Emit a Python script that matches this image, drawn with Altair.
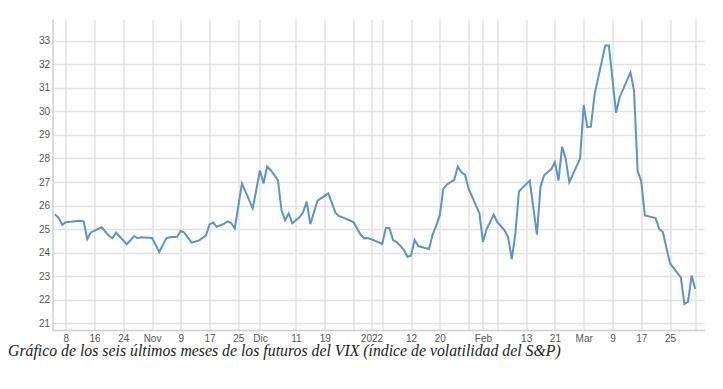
import altair as alt
import pandas as pd
from datetime import datetime, timezone

# ---- data ----
dates = [
    "2021-10-05", "2021-10-06", "2021-10-07", "2021-10-08", "2021-10-10", "2021-10-12",
    "2021-10-13", "2021-10-14", "2021-10-15", "2021-10-18", "2021-10-20", "2021-10-21",
    "2021-10-22", "2021-10-25", "2021-10-27", "2021-10-28", "2021-10-29", "2021-11-01",
    "2021-11-03", "2021-11-05", "2021-11-06", "2021-11-08", "2021-11-09", "2021-11-10",
    "2021-11-12", "2021-11-14", "2021-11-15", "2021-11-16", "2021-11-17", "2021-11-18",
    "2021-11-19", "2021-11-21", "2021-11-22", "2021-11-23", "2021-11-24", "2021-11-26",
    "2021-11-29", "2021-12-01", "2021-12-02", "2021-12-03", "2021-12-04", "2021-12-06",
    "2021-12-07", "2021-12-08", "2021-12-09", "2021-12-10", "2021-12-12", "2021-12-13",
    "2021-12-14", "2021-12-15", "2021-12-17", "2021-12-20", "2021-12-22", "2021-12-23",
    "2021-12-24", "2021-12-27", "2021-12-29", "2021-12-30", "2021-12-31", "2022-01-02",
    "2022-01-04", "2022-01-05", "2022-01-06", "2022-01-07", "2022-01-08", "2022-01-09",
    "2022-01-10", "2022-01-11", "2022-01-12", "2022-01-13", "2022-01-14", "2022-01-17",
    "2022-01-18", "2022-01-19", "2022-01-20", "2022-01-21", "2022-01-22", "2022-01-24",
    "2022-01-25", "2022-01-26", "2022-01-27", "2022-01-28", "2022-01-31", "2022-02-01",
    "2022-02-02", "2022-02-04", "2022-02-05", "2022-02-07", "2022-02-08", "2022-02-09",
    "2022-02-10", "2022-02-11", "2022-02-14", "2022-02-16", "2022-02-17", "2022-02-18",
    "2022-02-20", "2022-02-21", "2022-02-22", "2022-02-23", "2022-02-24", "2022-02-25",
    "2022-02-28", "2022-03-01", "2022-03-02", "2022-03-03", "2022-03-04", "2022-03-07",
    "2022-03-08", "2022-03-10", "2022-03-11", "2022-03-14", "2022-03-15", "2022-03-16",
    "2022-03-17", "2022-03-18", "2022-03-21", "2022-03-22", "2022-03-23", "2022-03-25",
    "2022-03-28", "2022-03-29", "2022-03-30", "2022-03-31", "2022-04-01",
]
values = [
    25.62, 25.50, 25.19, 25.29, 25.33, 25.36,
    25.33, 24.58, 24.86, 25.08, 24.72, 24.62,
    24.85, 24.36, 24.70, 24.62, 24.66, 24.63,
    24.03, 24.62, 24.66, 24.68, 24.93, 24.85,
    24.43, 24.52, 24.62, 24.74, 25.20, 25.28,
    25.10, 25.22, 25.33, 25.26, 25.03, 26.94,
    25.88, 27.49, 26.94, 27.66, 27.50, 27.08,
    25.80, 25.38, 25.67, 25.25, 25.50, 25.73,
    26.17, 25.21, 26.21, 26.52, 25.70, 25.55,
    25.50, 25.30, 24.76, 24.61, 24.62, 24.51,
    24.37, 25.05, 25.05, 24.54, 24.45, 24.30,
    24.12, 23.83, 23.87, 24.54, 24.28, 24.16,
    24.76, 25.15, 25.60, 26.72, 26.90, 27.09,
    27.66, 27.41, 27.31, 26.72, 25.68, 24.46,
    25.00, 25.61, 25.30, 24.95, 24.65, 23.73,
    24.80, 26.60, 27.06, 24.77, 26.80, 27.29,
    27.55, 27.84, 27.06, 28.50, 27.98, 26.99,
    28.00, 30.26, 29.33, 29.35, 30.70, 32.80,
    32.80, 29.94, 30.60, 31.66, 30.87, 27.46,
    27.03, 25.58, 25.47, 25.00, 24.88, 23.55,
    22.95, 21.82, 21.92, 23.03, 22.46,
]

tick_dates = [
    "2021-10-08", "2021-10-16", "2021-10-24", "2021-11-01", "2021-11-09", "2021-11-17",
    "2021-11-25", "2021-12-01", "2021-12-11", "2021-12-19", "2021-12-27", "2022-01-01",
    "2022-01-04", "2022-01-12", "2022-01-20", "2022-01-28", "2022-02-01", "2022-02-05",
    "2022-02-13", "2022-02-21", "2022-03-01", "2022-03-09", "2022-03-17", "2022-03-25",
    "2022-04-01",
]
tick_labels = [
    "8", "16", "24", "Nov", "9", "17",
    "25", "Dic", "11", "19", "", "2022",
    "", "12", "20", "", "Feb", "",
    "13", "21", "Mar", "9", "17", "25",
    "",
]
y_ticks = [21, 22, 23, 24, 25, 26, 27, 28, 29, 30, 31, 32, 33]
caption = "Gráfico de los seis últimos meses de los futuros del VIX (índice de volatilidad del S&P)"


def to_ms(s):
    return int(datetime.fromisoformat(s).replace(tzinfo=timezone.utc).timestamp() * 1000)


tick_ms = [to_ms(d) for d in tick_dates]
x_domain = [to_ms("2021-10-04T08:00:00"), to_ms("2022-04-03T14:00:00")]

label_expr = "''"
for ms, lab in reversed(list(zip(tick_ms, tick_labels))):
    label_expr = f"time(datum.value) == {ms} ? '{lab}' : ({label_expr})"

df = pd.DataFrame({"date": dates, "value": values})

line = alt.Chart(df).mark_line(color="#5b94c8", strokeWidth=2).encode(
    x=alt.X(
        "date:T",
        scale=alt.Scale(type="utc", domain=x_domain, nice=False),
        axis=alt.Axis(
            values=tick_ms,
            labelExpr=label_expr,
            title=None,
            ticks=False,
            labelPadding=3,
            labelOverlap=False,
            grid=True,
        ),
    ),
    y=alt.Y(
        "value:Q",
        scale=alt.Scale(domain=[20.72, 33.92], nice=False, zero=False),
        axis=alt.Axis(values=y_ticks, title=None, ticks=False, labelPadding=3, grid=True),
    ),
)

cap = alt.Chart(pd.DataFrame({"t": [caption]})).mark_text(
    align="left",
    baseline="alphabetic",
    font="Liberation Serif",
    fontStyle="italic",
    fontSize=15.8,
    color="#222222",
).encode(x=alt.value(-44.5), y=alt.value(337.3), text="t:N")

chart = (
    alt.layer(line, cap)
    .properties(
        width=652,
        height=311,
        autosize=alt.AutoSizeParams(type="none"),
        padding={"left": 44.5, "top": 11, "right": 10, "bottom": 50},
    )
    .configure_view(stroke=None)
    .configure_axis(
        labelFont="Liberation Sans",
        labelFontSize=10,
        labelColor="#555555",
        gridColor="#e3e3e3",
        gridWidth=1.5,
        domainColor="#cfcfcf",
        domainWidth=1.5,
    )
)

chart.save("out.html", embed_options={"renderer": "svg", "actions": False})
